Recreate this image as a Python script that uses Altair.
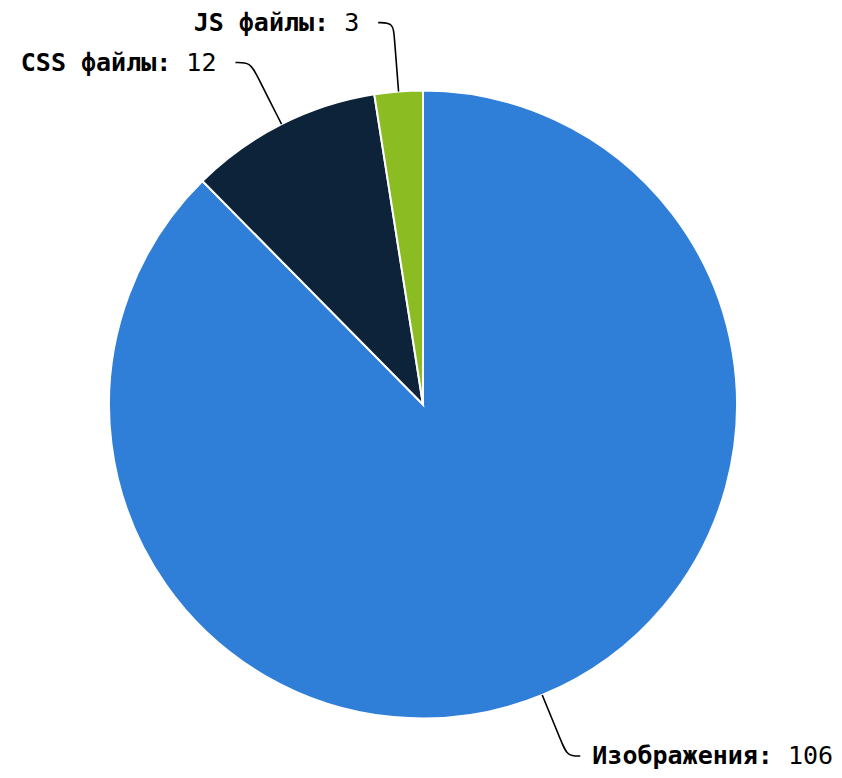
import math
import altair as alt
import pandas as pd

names = ["Изображения", "CSS файлы", "JS файлы"]
values = [106, 12, 3]
colors = ["#2f7ed8", "#0d233a", "#8bbc21"]

W, H = 826, 762
CX, CY, R = 415, 396.5, 314
FS = 25
CHW = FS * 0.602

total = sum(values)
rows, lines, texts = [], [], []
cum = 0
for i, (n, v) in enumerate(zip(names, values)):
    rows.append({"name": n, "value": v, "i": i})
    mid = (cum + v / 2) / total * 2 * math.pi
    cum += v
    s, c = math.sin(mid), -math.cos(mid)
    ex, ey = CX + R * s, CY + R * c
    tb = R + (66 if c > 0 else 69)
    bx, by = CX + tb * s, CY + tb * c
    px, py = CX + (tb - 14) * s, CY + (tb - 14) * c
    side = 1 if s >= 0 else -1
    lx, ly = bx + side * (13 if side > 0 else 15), by
    for k, (x, y) in enumerate([(ex, ey), (px, py), (bx, by), (lx, ly)]):
        lines.append({"name": n, "k": k, "x": x, "y": y})
    vstr = str(v)
    nstr = n + ":"
    if side > 0:
        tx = lx + 12
        texts.append({"t": nstr, "x": tx, "y": ly, "wt": "b", "al": "left"})
        texts.append({"t": vstr, "x": tx + (len(nstr) + 1) * CHW, "y": ly, "wt": "n", "al": "left"})
    else:
        tx = lx - 19
        texts.append({"t": vstr, "x": tx, "y": ly, "wt": "n", "al": "right"})
        texts.append({"t": nstr, "x": tx - (len(vstr) + 1) * CHW, "y": ly, "wt": "b", "al": "right"})

pie_df = pd.DataFrame(rows)
line_df = pd.DataFrame(lines)
text_df = pd.DataFrame(texts)

pie = alt.Chart(pie_df).mark_arc(stroke="white", strokeWidth=2, outerRadius=R).encode(
    theta=alt.Theta("value:Q", stack=True),
    order=alt.Order("i:Q"),
    color=alt.Color("name:N", scale=alt.Scale(domain=names, range=colors), legend=None),
    x=alt.value(CX),
    y=alt.value(CY),
)

conn = alt.Chart(line_df).mark_line(interpolate="basis", color="#000000", strokeWidth=1.6).encode(
    x=alt.X("x:Q", scale=None),
    y=alt.Y("y:Q", scale=None),
    detail="name:N",
    order=alt.Order("k:Q"),
)

def text_layer(wt, al):
    d = text_df[(text_df["wt"] == wt) & (text_df["al"] == al)]
    return alt.Chart(d).mark_text(
        font="DejaVu Sans Mono", fontSize=FS, fontWeight="bold" if wt == "b" else "normal",
        align=al, baseline="middle", color="#000000",
    ).encode(x=alt.X("x:Q", scale=None), y=alt.Y("y:Q", scale=None), text="t:N")

chart = alt.layer(
    pie, conn,
    text_layer("b", "left"), text_layer("n", "left"),
    text_layer("b", "right"), text_layer("n", "right"),
).properties(
    width=W, height=H, padding=0, autosize=alt.AutoSizeParams(type="none")
).configure_view(stroke=None)

chart.save("out.html", embed_options={"renderer": "svg", "actions": False})
